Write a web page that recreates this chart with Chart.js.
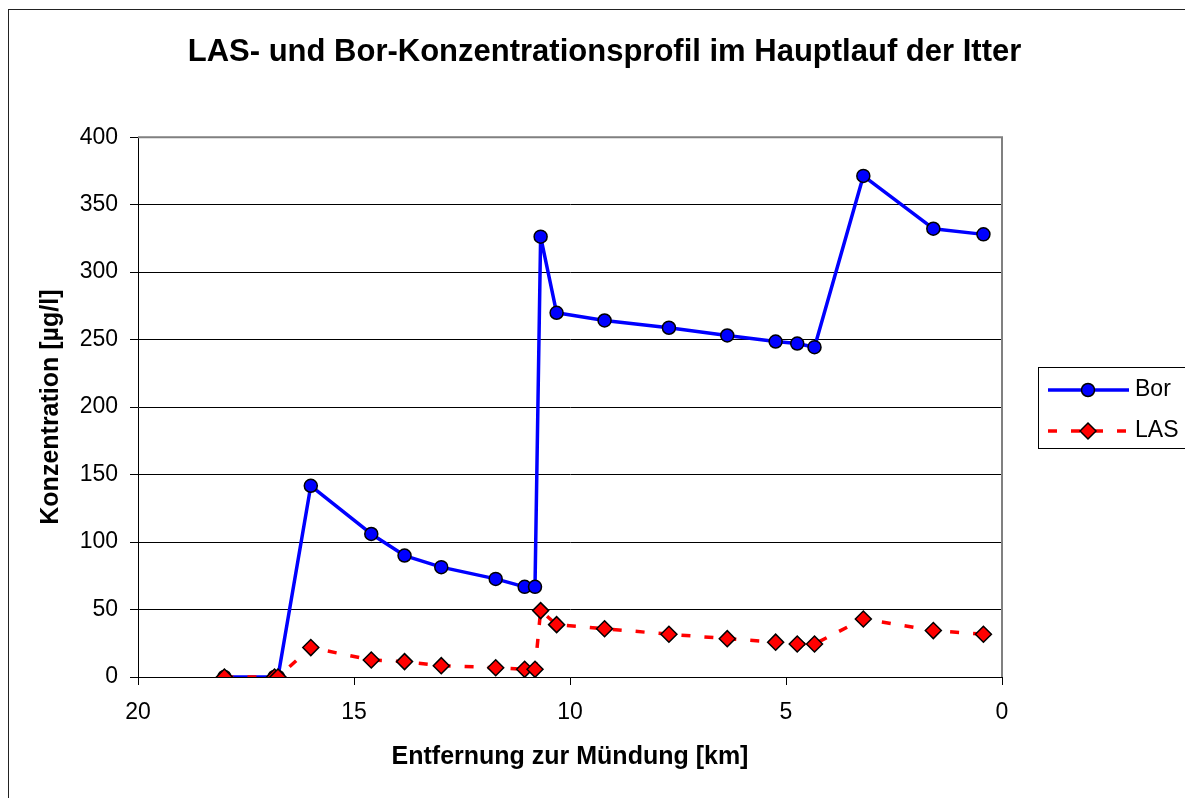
<!DOCTYPE html>
<html>
<head>
<meta charset="utf-8">
<script src="https://cdn.jsdelivr.net/npm/chart.js@4/dist/chart.umd.min.js"></script>
<style>
  html, body { margin: 0; padding: 0; background: #fff; }
  canvas { display: block; }
</style>
</head>
<body>
<canvas id="myChart" width="1185" height="798"></canvas>
<script>
// distance to the river mouth [km] and concentrations [µg/l]
var km  = [18.0, 16.84, 16.76, 16.0, 14.6, 13.83, 12.98, 11.72, 11.05, 10.81, 10.68, 10.31, 9.2, 7.71, 6.36, 5.24, 4.74, 4.34, 3.21, 1.59, 0.43];
var bor = [0, 0, 0, 141.7, 106, 90, 81.4, 72.7, 66.8, 66.8, 326.3, 269.9, 264.2, 258.8, 253.1, 248.6, 247.1, 244.4, 371.3, 332.2, 328.0];
var las = [0, 0, 0, 21.8, 12.6, 11.4, 8.4, 6.9, 5.7, 5.7, 49.2, 38.8, 35.8, 31.7, 28.4, 25.8, 24.5, 24.5, 43.0, 34.4, 31.7];
var xTicks = [20, 15, 10, 5, 0];
var yTicks = [0, 50, 100, 150, 200, 250, 300, 350, 400];

var FONT = '"Liberation Sans", Arial, sans-serif';

function toPoints(vals) {
    return km.map(function(k, i) { return { x: k, y: vals[i] }; });
}

// outer frame, gray plot border, legend box
var decor = {
    id: 'decor',
    beforeDraw: function(chart) {
        var c = chart.ctx;
        c.save();
        c.fillStyle = '#fff';
        c.fillRect(0, 0, chart.width, chart.height);
        c.strokeStyle = '#222';
        c.lineWidth = 1;
        c.strokeRect(8.5, 9.5, 1400, 1000);
        c.restore();
    },
    beforeDatasetsDraw: function(chart) {
        var a = chart.chartArea, c = chart.ctx;
        c.save();
        c.strokeStyle = '#808080';
        c.lineWidth = 2;
        c.beginPath();
        c.moveTo(a.left, a.top);
        c.lineTo(a.right, a.top);
        c.lineTo(a.right, a.bottom);
        c.stroke();
        c.restore();
    },
    afterDraw: function(chart) {
        var c = chart.ctx;
        c.save();
        c.strokeStyle = '#000';
        c.lineWidth = 1;
        c.strokeRect(1038.5, 367.5, 200, 81);
        var rows = [chart.data.datasets[1], chart.data.datasets[0]];
        rows.forEach(function(ds, i) {
            var y = 390 + i * 41;
            c.strokeStyle = ds.borderColor;
            c.lineWidth = ds.borderWidth;
            c.setLineDash(ds.borderDash || []);
            c.beginPath();
            c.moveTo(1048, y);
            c.lineTo(1129, y);
            c.stroke();
            c.setLineDash([]);
            c.fillStyle = ds.pointBackgroundColor;
            c.strokeStyle = ds.pointBorderColor;
            c.lineWidth = ds.pointBorderWidth;
            Chart.helpers.drawPoint(c, {
                pointStyle: ds.pointStyle, radius: ds.pointRadius,
                rotation: 0, borderWidth: ds.pointBorderWidth
            }, 1088, y);
            c.fillStyle = '#000';
            c.font = '23px ' + FONT;
            c.textBaseline = 'middle';
            c.fillText(ds.label, 1135, y);
        });
        c.restore();
    }
};

var ctx = document.getElementById('myChart').getContext('2d');
var myChart = new Chart(ctx, {
    type: 'line',
    data: {
        datasets: [{
            label: 'LAS',
            data: toPoints(las),
            order: 0,
            borderColor: '#ff0000',
            borderWidth: 3.5,
            borderDash: [9, 14],
            pointStyle: 'rectRot',
            pointRadius: 8,
            pointBackgroundColor: '#ff0000',
            pointBorderColor: '#000',
            pointBorderWidth: 1.5
        }, {
            label: 'Bor',
            data: toPoints(bor),
            order: 1,
            borderColor: '#0000ff',
            borderWidth: 3.5,
            borderJoinStyle: 'round',
            pointStyle: 'circle',
            pointRadius: 6.5,
            pointBackgroundColor: '#0000ff',
            pointBorderColor: '#000',
            pointBorderWidth: 1.5
        }]
    },
    options: {
        responsive: false,
        animation: false,
        devicePixelRatio: 1,
        layout: { padding: { left: 24, right: 0, top: 0, bottom: 0 } },
        elements: { line: { tension: 0, fill: false } },
        plugins: {
            legend: { display: false },
            tooltip: { enabled: false },
            title: {
                display: true,
                text: 'LAS- und Bor-Konzentrationsprofil im Hauptlauf der Itter',
                color: '#000',
                font: { family: FONT, size: 31, weight: 'bold' },
                padding: { top: 34, bottom: 66 }
            }
        },
        scales: {
            x: {
                type: 'linear',
                reverse: true,
                min: 0,
                max: 20,
                afterBuildTicks: function(s) { s.ticks = xTicks.map(function(v) { return { value: v }; }); },
                afterFit: function(s) { s.height = 121; },
                grid: { drawOnChartArea: false, tickColor: '#000', tickLength: 8 },
                border: { color: '#000', width: 1 },
                ticks: { color: '#000', padding: 14, maxRotation: 0, font: { family: FONT, size: 23 } },
                title: {
                    display: true,
                    text: 'Entfernung zur Mündung [km]',
                    color: '#000',
                    font: { family: FONT, size: 25, weight: 'bold' },
                    padding: { top: 0, bottom: 26 }
                }
            },
            y: {
                min: 0,
                max: 400,
                afterBuildTicks: function(s) { s.ticks = yTicks.map(function(v) { return { value: v }; }); },
                afterFit: function(s) { s.width = 114; },
                grid: { color: '#000', tickColor: '#000', tickLength: 8, lineWidth: 1 },
                border: { color: '#000', width: 1 },
                ticks: { color: '#000', padding: 12, font: { family: FONT, size: 23 } },
                title: {
                    display: true,
                    text: 'Konzentration [µg/l]',
                    color: '#000',
                    font: { family: FONT, size: 25, weight: 'bold' },
                    padding: { top: 12, bottom: 0 }
                }
            },
            // empty axis on the right that keeps room for the legend
            legendSpace: {
                type: 'linear',
                axis: 'y',
                position: 'right',
                min: 0,
                max: 400,
                afterFit: function(s) { s.width = 183; },
                grid: { display: false },
                border: { display: false },
                ticks: { display: false }
            }
        }
    },
    plugins: [decor]
});
</script>
</body>
</html>
